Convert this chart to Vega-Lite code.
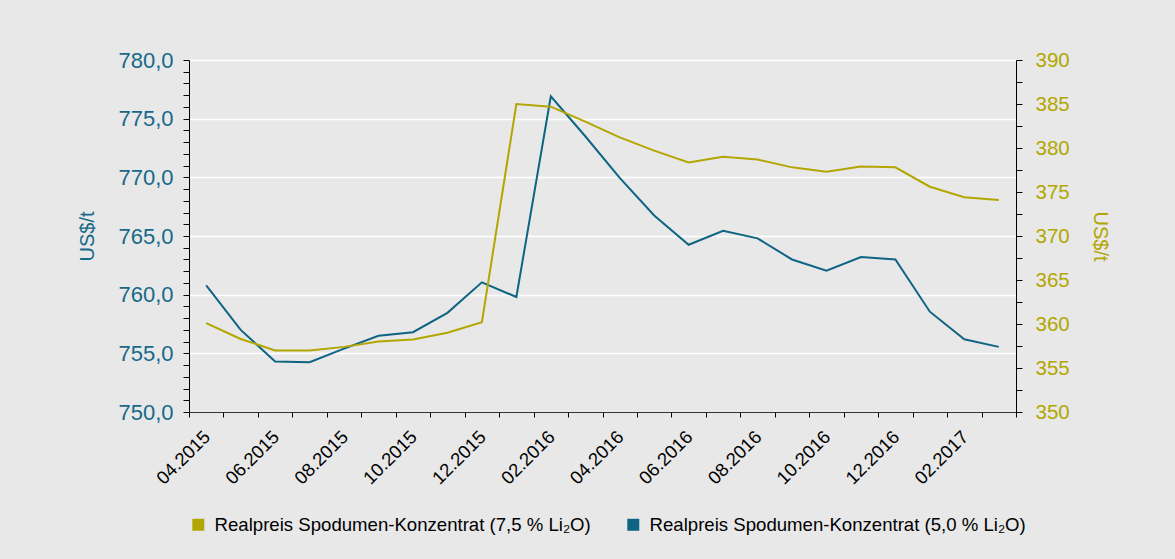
{
  "$schema": "https://vega.github.io/schema/vega-lite/v6.json",
  "width": 827,
  "height": 352,
  "autosize": {"type": "none"},
  "padding": {"left": 189, "top": 60, "right": 159, "bottom": 147},
  "background": "#e8e8e8",
  "config": {
    "font": "Liberation Sans",
    "view": {"stroke": null},
    "axis": {"domainColor": "#000000", "tickColor": "#000000", "domainWidth": 1}
  },
  "data": {
    "values": [
      {"month": "04.2015", "p50": 760.8, "p75": 360.1},
      {"month": "05.2015", "p50": 757.0, "p75": 358.3},
      {"month": "06.2015", "p50": 754.3, "p75": 357.0},
      {"month": "07.2015", "p50": 754.25, "p75": 357.0},
      {"month": "08.2015", "p50": 755.4, "p75": 357.4},
      {"month": "09.2015", "p50": 756.5, "p75": 358.0},
      {"month": "10.2015", "p50": 756.8, "p75": 358.25},
      {"month": "11.2015", "p50": 758.45, "p75": 359.0},
      {"month": "12.2015", "p50": 761.05, "p75": 360.2},
      {"month": "01.2016", "p50": 759.8, "p75": 385.0},
      {"month": "02.2016", "p50": 776.9, "p75": 384.7},
      {"month": "03.2016", "p50": 773.5, "p75": 383.0},
      {"month": "04.2016", "p50": 769.95, "p75": 381.2},
      {"month": "05.2016", "p50": 766.75, "p75": 379.7},
      {"month": "06.2016", "p50": 764.25, "p75": 378.35},
      {"month": "07.2016", "p50": 765.45, "p75": 379.0},
      {"month": "08.2016", "p50": 764.8, "p75": 378.7},
      {"month": "09.2016", "p50": 763.0, "p75": 377.8},
      {"month": "10.2016", "p50": 762.05, "p75": 377.3},
      {"month": "11.2016", "p50": 763.2, "p75": 377.9},
      {"month": "12.2016", "p50": 763.0, "p75": 377.8},
      {"month": "01.2017", "p50": 758.55, "p75": 375.6},
      {"month": "02.2017", "p50": 756.2, "p75": 374.4},
      {"month": "03.2017", "p50": 755.55, "p75": 374.1}
    ]
  },
  "encoding": {
    "x": {
      "field": "month",
      "type": "ordinal",
      "sort": null,
      "scale": {"type": "band", "paddingInner": 0, "paddingOuter": 0},
      "axis": {
        "title": null,
        "labelAngle": -45,
        "labelFontSize": 18.5,
        "labelColor": "#000000",
        "labelExpr": "parseInt(substring(datum.label, 0, 2)) % 2 === 0 ? datum.label : ''",
        "tickBand": "extent",
        "tickSize": 5,
        "domainColor": "#333333",
        "labelPadding": 10,
        "labelOffset": -6,
        "grid": false
      }
    }
  },
  "layer": [
    {
      "mark": {"type": "line", "strokeWidth": 2},
      "encoding": {
        "y": {
          "field": "p50",
          "type": "quantitative",
          "scale": {"domain": [750, 780], "zero": false, "nice": false},
          "axis": {
            "orient": "left",
            "title": "US$/t",
            "titleColor": "#16698a",
            "titleFont": "Liberation Sans",
            "titleFontSize": 20,
            "titleFontWeight": "normal",
            "titlePadding": 20,
            "labelColor": "#16698a",
            "labelFontSize": 22,
            "labelPadding": 10,
            "values": [750,751,752,753,754,755,756,757,758,759,760,761,762,763,764,765,766,767,768,769,770,771,772,773,774,775,776,777,778,779,780],
            "labelExpr": "datum.value % 5 === 0 ? replace(format(datum.value, '.1f'), '.', ',') : ''",
            "tickSize": 6,
            "grid": true,
            "gridColor": "#ffffff",
            "gridWidth": 1.5,
            "gridOpacity": {"condition": {"test": "datum.value % 5 === 0 && datum.value > 750", "value": 1}, "value": 0}
          }
        },
        "color": {
          "datum": "Realpreis Spodumen-Konzentrat (5,0 % Li₂O)",
          "type": "nominal",
          "scale": {
            "domain": ["Realpreis Spodumen-Konzentrat (7,5 % Li₂O)", "Realpreis Spodumen-Konzentrat (5,0 % Li₂O)"],
            "range": ["#b3a600", "#0e6482"]
          },
          "legend": {
            "title": null,
            "orient": "bottom",
            "direction": "horizontal",
            "symbolType": "square",
            "symbolSize": 30,
            "symbolStrokeWidth": 6.5,
            "labelFontSize": 18.6,
            "labelLimit": 0,
            "labelOffset": 7,
            "labelColor": "#000000",
            "columnPadding": 26,
            "offset": 27
          }
        }
      }
    },
    {
      "mark": {"type": "line", "strokeWidth": 2},
      "encoding": {
        "y": {
          "field": "p75",
          "type": "quantitative",
          "scale": {"domain": [350, 390], "zero": false, "nice": false},
          "axis": {
            "orient": "right",
            "title": "US$/t",
            "titleColor": "#b3a600",
            "titleFont": "Liberation Sans",
            "titleFontSize": 20,
            "titleFontWeight": "normal",
            "titlePadding": 20,
            "labelColor": "#b3a600",
            "labelFontSize": 20.5,
            "labelPadding": 13,
            "values": [350,352.5,355,357.5,360,362.5,365,367.5,370,372.5,375,377.5,380,382.5,385,387.5,390],
            "labelExpr": "datum.value % 5 === 0 ? format(datum.value, 'd') : ''",
            "tickSize": 6,
            "grid": false
          }
        },
        "color": {
          "datum": "Realpreis Spodumen-Konzentrat (7,5 % Li₂O)",
          "type": "nominal"
        }
      }
    }
  ],
  "resolve": {"scale": {"y": "independent"}}
}
